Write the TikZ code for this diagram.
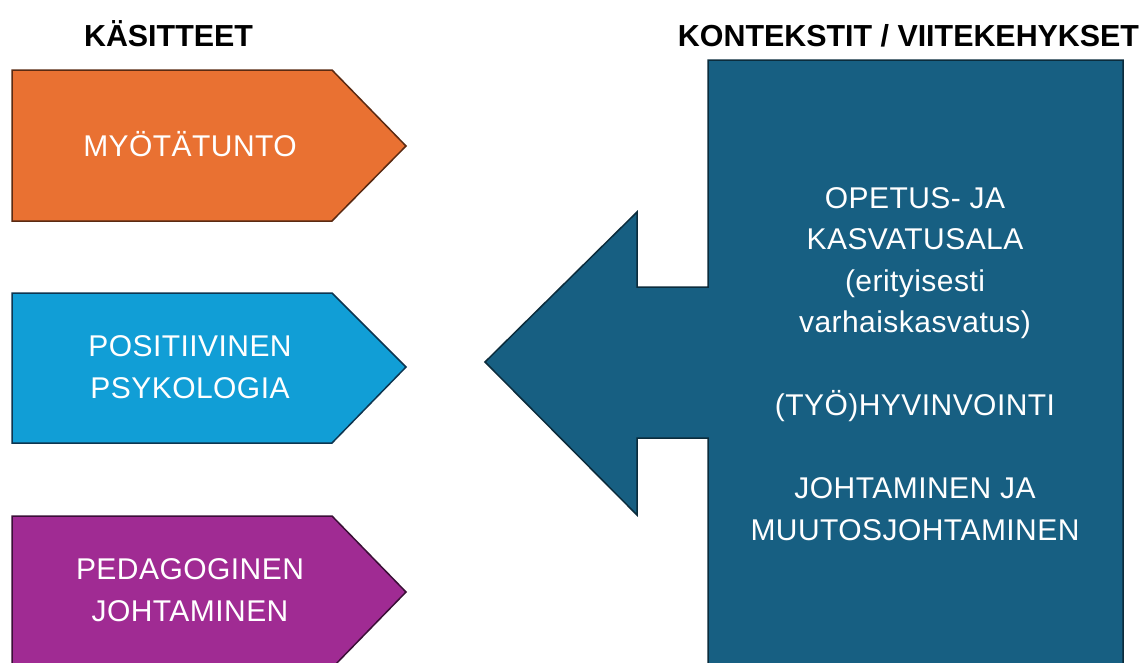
\documentclass[tikz,border=0pt]{standalone}
\usepackage{fontspec}
\setmainfont{Liberation Sans}
\newfontfamily\boxfont[LetterSpace=1.5]{Liberation Sans}
\definecolor{orangefill}{HTML}{E97132}
\definecolor{orangeline}{HTML}{5A2A12}
\definecolor{cyanfill}{HTML}{119ED6}
\definecolor{cyanline}{HTML}{0D3550}
\definecolor{purplefill}{HTML}{A02B93}
\definecolor{purpleline}{HTML}{3A0F36}
\definecolor{navyfill}{HTML}{175F82}
\definecolor{navyline}{HTML}{0B2C3C}
\tikzset{
  concept/.style={line width=1.5pt, line join=miter},
  heading/.style={font=\bfseries\fontsize{30.4}{36}\selectfont, text=black, inner sep=0pt, anchor=base},
  whitetext/.style={font=\boxfont\fontsize{30}{41.5}\selectfont, text=white, align=center, inner sep=0pt},
}
\begin{document}
\begin{tikzpicture}[x=1pt,y=-1pt]
  \useasboundingbox (0,0) rectangle (1146,662);
  \clip (0,0) rectangle (1146,662);
  \fill[white] (0,0) rectangle (1146,662);

  % headings
  \node[heading] (hconcepts) at (168.5,46.5) {KÄSITTEET};
  \node[heading] (hcontexts) at (908.5,46.5) {KONTEKSTIT / VIITEKEHYKSET};

  % concept pentagons
  \draw[concept, fill=orangefill, draw=orangeline]
    (12,70) -- (332,70) -- (406,146) -- (332,221) -- (12,221) -- cycle;
  \draw[concept, fill=cyanfill, draw=cyanline]
    (12,293) -- (332,293) -- (406,367) -- (332,443) -- (12,443) -- cycle;
  \draw[concept, fill=purplefill, draw=purpleline]
    (12,516) -- (332,516) -- (406,592) -- (332,668) -- (12,668) -- cycle;

  \node[whitetext, anchor=base] (myotatunto) at (190,156.5) {MYÖTÄTUNTO};
  \node[whitetext] (positiivinen) at (190,367) {POSITIIVINEN\\PSYKOLOGIA};
  \node[whitetext] (pedagoginen) at (190,590) {PEDAGOGINEN\\JOHTAMINEN};

  % context box merged with the leftward arrow
  \draw[concept, fill=navyfill, draw=navyline]
    (708,60) -- (1123,60) -- (1123,700) -- (708,700) -- (708,438)
    -- (637,438) -- (637,515) -- (485,362) -- (637,212) -- (637,287)
    -- (708,287) -- cycle;

  \node[whitetext] (contexts) at (915,364)
    {OPETUS- JA\\KASVATUSALA\\(erityisesti\\varhaiskasvatus)\\[41.5pt]
     (TYÖ)HYVINVOINTI\\[41.5pt]JOHTAMINEN JA\\MUUTOSJOHTAMINEN};
\end{tikzpicture}
\end{document}
